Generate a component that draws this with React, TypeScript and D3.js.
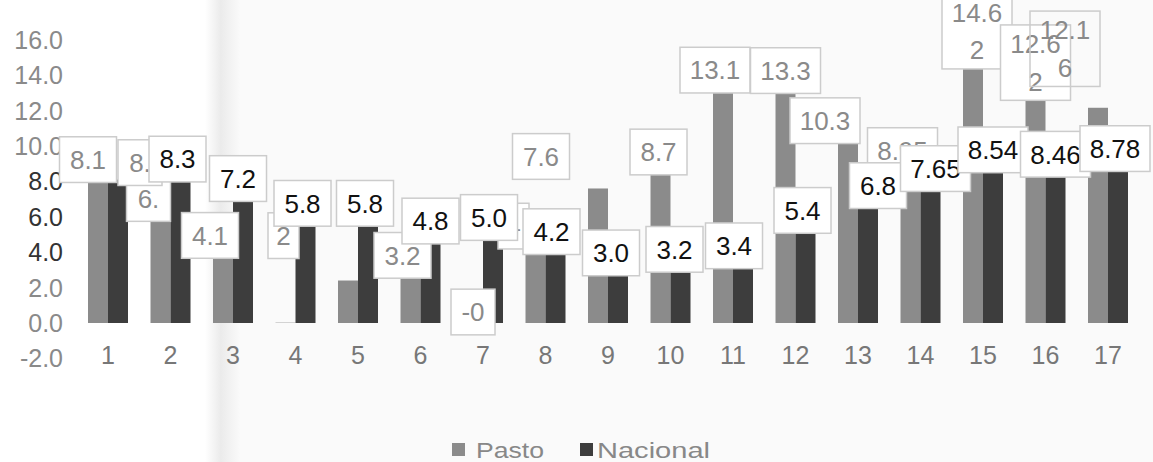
import React from "react";
import * as d3 from "d3";

const categories = ["1","2","3","4","5","6","7","8","9","10","11","12","13","14","15","16","17"];
const pastoValues = [8.1, 6.3, 4.1, 0.02, 2.4, 3.2, -0.2, 4.4, 7.6, 8.7, 13.1, 13.3, 10.3, 8.95, 14.62, 12.62, 12.16];
const nacionalValues = [8.1, 8.3, 7.2, 5.8, 5.8, 4.8, 5.0, 4.2, 3.0, 3.2, 3.4, 5.4, 6.8, 7.65, 8.54, 8.46, 8.78];
// label texts as visible in the (partly overlapped) original
const pastoLabels = ["8.1","6.","4.1","2","","3.2","-0","4","7.6","8.7","13.1","13.3","10.3","8.95","14.6|2","12.6|2","12.1|6"];
const nacionalLabels = ["8.","8.3","7.2","5.8","5.8","4.8","5.0","4.2","3.0","3.2","3.4","5.4","6.8","7.65","8.54","8.46","8.78"];
const yTicks = [-2, 0, 2, 4, 6, 8, 10, 12, 14, 16];
const seriesNames = ["Pasto", "Nacional"];

// layout nudges for overlapping data labels [dx, dy]
const pastoNudge: [number, number][] = [
  [-10, -3], [-12, 4], [-13, 2], [-2, -70], [0, 0], [-8, 6], [0, 6], [-22, -2], [-57, -15], [-2, 0],
  [-8, -4], [0, 0], [-23, -3], [-8, 3], [4, -16], [0, -20], [-33, -42],
];
const nacionalNudge: [number, number][] = [
  [22, 0], [-3, 0], [-5, 0], [-3, 0], [-3, 0], [0, 0], [-4, 0], [-4, 0], [-7, 0], [-6, 0],
  [-9, 0], [-3, 0], [10, 0], [5, -2], [0, -5], [0, -2], [-3, -2],
];

const W = 1153;
const H = 462;

const PASTO_COLOR = "#8b8b8b";
const NAC_COLOR = "#3d3d3d";
const FONT = "'Liberation Sans', Arial, sans-serif";

function Label({ x, y, text, color, fs, clear }: { x: number; y: number; text: string; color: string; fs: number; clear?: boolean }) {
  if (!text) return null;
  const lines = text.split("|");
  const lh = fs * 1.45;
  const maxLen = d3.max(lines, (l) => l.length) as number;
  const w = maxLen * fs * 0.5 + 18;
  const h = lines.length * lh + (lines.length === 1 ? 8 : 0);
  return (
    <g>
      <rect
        x={x - w / 2}
        y={y - h / 2}
        width={w}
        height={h}
        fill={clear ? "none" : "#ffffff"}
        stroke="#cccccc"
        strokeWidth={1.5}
      />
      {lines.map((l, i) => (
        <text
          key={i}
          x={x}
          y={y - ((lines.length - 1) * lh) / 2 + i * lh}
          dy="0.36em"
          textAnchor="middle"
          fontSize={fs}
          fontFamily={FONT}
          fill={color}
        >
          {l}
        </text>
      ))}
    </g>
  );
}

export default function App() {
  const x0 = d3.scaleBand<string>().domain(categories).range([76.75, 1139.25]).padding(0);
  const bw = x0.bandwidth();
  const x1 = d3.scaleBand<string>().domain(seriesNames).range([bw / 2 - 20, bw / 2 + 20]).padding(0);
  const y = d3.scaleLinear().domain([-2, 16]).range([358.4, 39.8]);
  const sw = x1.bandwidth();

  const barRect = (cat: string, s: string, v: number, color: string) => {
    const xx = (x0(cat) as number) + (x1(s) as number);
    const y0 = y(0);
    const yv = y(v);
    return (
      <rect key={cat + s} x={xx} y={Math.min(y0, yv)} width={sw} height={Math.abs(yv - y0)} fill={color} />
    );
  };

  return (
    <svg
      width={W}
      height={H}
      viewBox={`0 0 ${W} ${H}`}
      style={{ position: "absolute", left: 0, top: 0, background: "#ffffff" }}
    >
      <defs>
        <linearGradient id="fold" x1="0" x2="1" y1="0" y2="0">
          <stop offset="0" stopColor="#ffffff" />
          <stop offset="0.45" stopColor="#ebebeb" />
          <stop offset="1" stopColor="#fafafa" />
        </linearGradient>
      </defs>
      <rect x={205} y={0} width={35} height={H} fill="url(#fold)" />
      <rect x={240} y={0} width={W - 240} height={H} fill="#fafafa" />

      {/* y axis labels */}
      {yTicks.map((t) => (
        <text
          key={t}
          x={63}
          y={y(t)}
          dy="0.36em"
          textAnchor="end"
          fontSize={25}
          fontFamily={FONT}
          fill={t >= 4 && t <= 8 ? "#333" : "#8a8a8a"}
        >
          {t.toFixed(1)}
        </text>
      ))}

      {/* x axis labels */}
      {categories.map((c) => (
        <text
          key={c}
          x={(x0(c) as number) + bw / 2}
          y={355}
          dy="0.36em"
          textAnchor="middle"
          fontSize={25}
          fontFamily={FONT}
          fill="#777"
        >
          {c}
        </text>
      ))}

      {/* bars */}
      {categories.map((c, i) => barRect(c, "Pasto", pastoValues[i], PASTO_COLOR))}
      {categories.map((c, i) => barRect(c, "Nacional", nacionalValues[i], NAC_COLOR))}

      {/* pasto labels */}
      {categories.map((c, i) => {
        const cx = (x0(c) as number) + (x1("Pasto") as number) + sw / 2;
        const top = y(Math.max(0, pastoValues[i]));
        return (
          <Label
            key={"pl" + c}
            x={cx + pastoNudge[i][0]}
            y={top - 17 + pastoNudge[i][1]}
            text={pastoLabels[i]}
            color="#8a8a8a"
            fs={26}
            clear={i === 16}
          />
        );
      })}

      {/* nacional labels */}
      {categories.map((c, i) => {
        const cx = (x0(c) as number) + (x1("Nacional") as number) + sw / 2;
        const top = y(nacionalValues[i]);
        return (
          <Label
            key={"nl" + c}
            x={cx + nacionalNudge[i][0]}
            y={top - 17 + nacionalNudge[i][1]}
            text={nacionalLabels[i]}
            color={i === 0 ? "#8a8a8a" : "#111"}
            fs={26}
          />
        );
      })}

      {/* legend */}
      <rect x={452} y={443} width={13} height={13} fill={PASTO_COLOR} />
      <text x={476} y={458} fontSize={22} fontFamily={FONT} fill="#888" textLength={68} lengthAdjust="spacingAndGlyphs">
        Pasto
      </text>
      <rect x={580} y={443} width={13} height={13} fill={NAC_COLOR} />
      <text x={597} y={458} fontSize={22} fontFamily={FONT} fill="#888" textLength={113} lengthAdjust="spacingAndGlyphs">
        Nacional
      </text>
    </svg>
  );
}
